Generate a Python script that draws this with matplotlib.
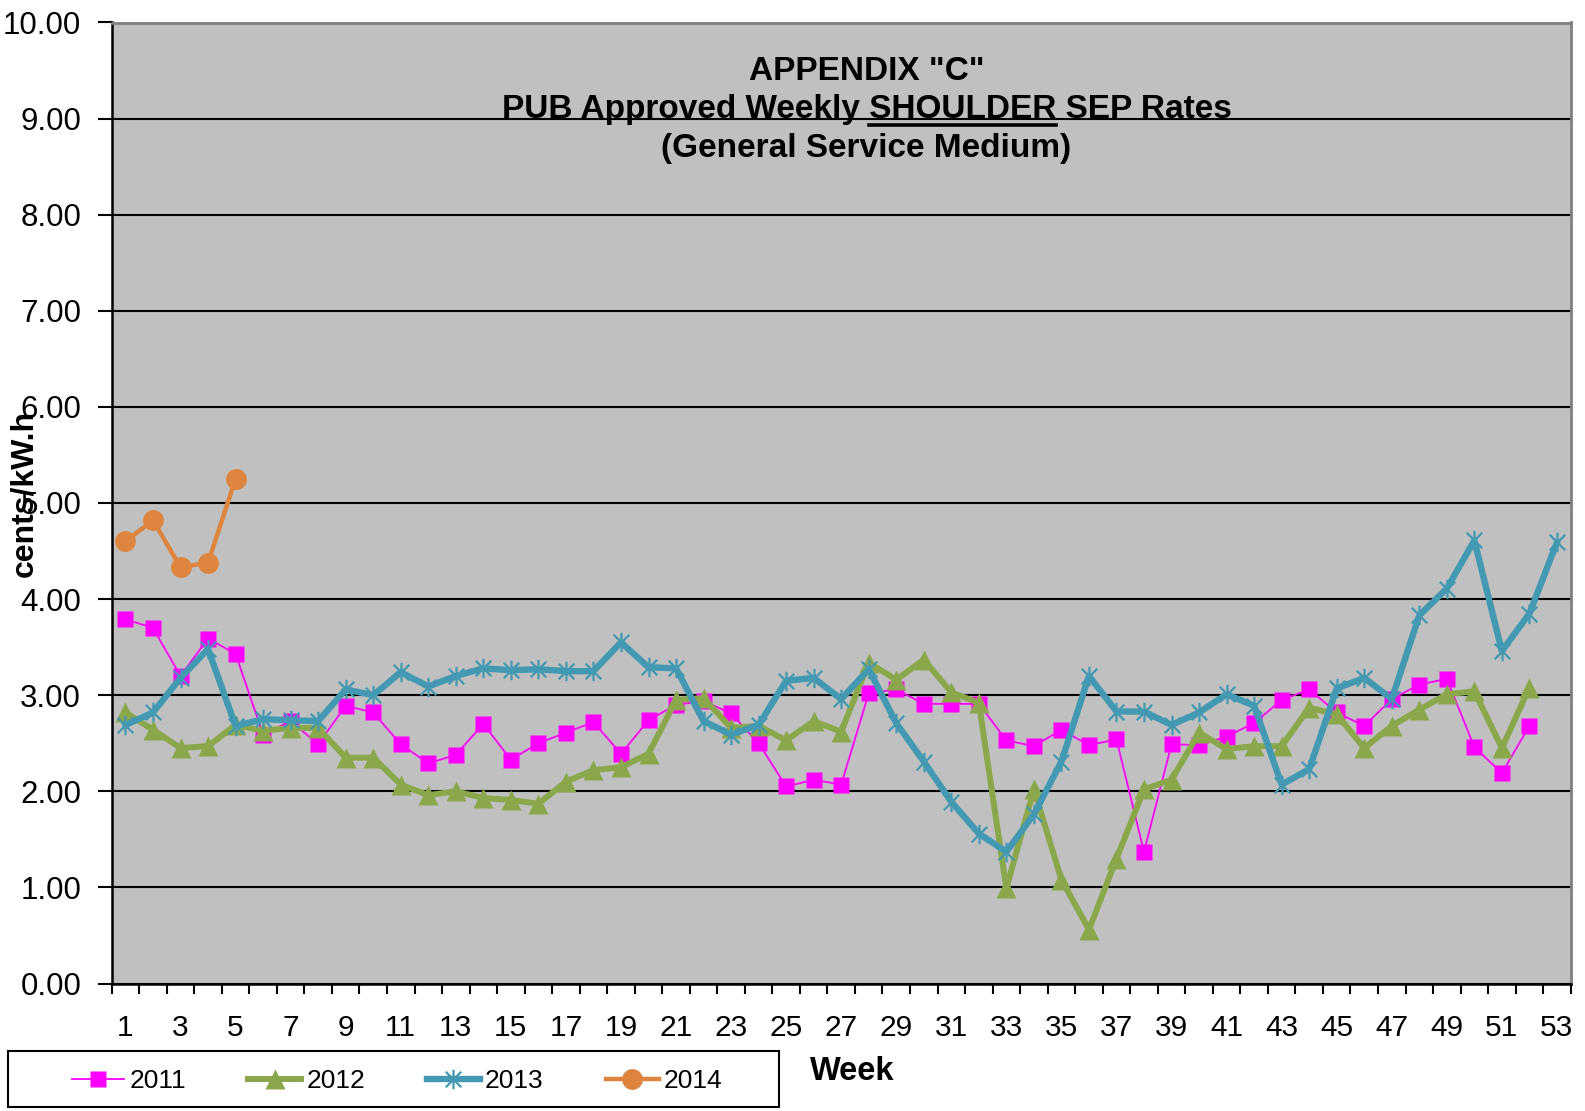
import numpy as np
import matplotlib
matplotlib.use("Agg")
import matplotlib.pyplot as plt
from matplotlib.path import Path
from matplotlib.patches import Rectangle
from matplotlib import font_manager as fm

weeks = list(range(1, 54))
week_tick_labels = [str(w) for w in range(1, 54, 2)]

rates_2011 = [3.79, 3.70, 3.20, 3.59, 3.43, 2.59, 2.73, 2.49, 2.89, 2.82,
              2.49, 2.29, 2.38, 2.70, 2.33, 2.50, 2.61, 2.72, 2.39, 2.74,
              2.90, 2.94, 2.81, 2.50, 2.05, 2.12, 2.07, 3.02, 3.06, 2.91,
              2.91, 2.91, 2.53, 2.47, 2.64, 2.48, 2.54, 1.37, 2.49, 2.48,
              2.57, 2.71, 2.95, 3.06, 2.82, 2.68, 2.96, 3.11, 3.17, 2.46,
              2.19, 2.68]
rates_2012 = [2.82, 2.64, 2.45, 2.47, 2.69, 2.63, 2.66, 2.66, 2.35, 2.35,
              2.07, 1.96, 2.00, 1.93, 1.91, 1.87, 2.10, 2.22, 2.25, 2.39,
              2.95, 2.97, 2.66, 2.68, 2.53, 2.73, 2.62, 3.34, 3.16, 3.37,
              3.03, 2.92, 0.99, 2.02, 1.08, 0.56, 1.30, 2.02, 2.12, 2.61,
              2.44, 2.47, 2.47, 2.87, 2.80, 2.45, 2.68, 2.85, 3.01, 3.04,
              2.45, 3.08]
rates_2013 = [2.69, 2.82, 3.18, 3.48, 2.68, 2.75, 2.74, 2.73, 3.06, 3.00,
              3.24, 3.09, 3.20, 3.28, 3.26, 3.27, 3.25, 3.25, 3.55, 3.29,
              3.28, 2.73, 2.59, 2.69, 3.15, 3.18, 2.96, 3.27, 2.71, 2.31,
              1.89, 1.56, 1.37, 1.76, 2.31, 3.20, 2.83, 2.83, 2.69, 2.82,
              3.01, 2.89, 2.07, 2.23, 3.07, 3.18, 2.96, 3.83, 4.11, 4.61,
              3.46, 3.85, 4.59]
rates_2014 = [4.60, 4.82, 4.33, 4.38, 5.25]

series_labels = ["2011", "2012", "2013", "2014"]

# ---- fonts ----
names = {f.name for f in fm.fontManager.ttflist}
NARROW = ["Liberation Sans Narrow", "Liberation Sans", "DejaVu Sans"] if "Liberation Sans Narrow" in names else ["Liberation Sans", "DejaVu Sans"]
REG = ["Liberation Sans", "DejaVu Sans"]
plt.rcParams["font.family"] = REG

W, H = 1585, 1111
fig = plt.figure(figsize=(W / 100, H / 100), dpi=100)
fig.patch.set_facecolor("white")

ax = fig.add_axes([111.7 / W, 1 - 983.5 / H, (1570.7 - 111.7) / W, (983.5 - 22.5) / H])
ax.set_facecolor("#C0C0C0")

star = Path([(-1, -1), (1, 1), (-1, 1), (1, -1), (0, -1.25), (0, 1.25)],
            [Path.MOVETO, Path.LINETO, Path.MOVETO, Path.LINETO, Path.MOVETO, Path.LINETO])

ax.plot(weeks[:len(rates_2011)], rates_2011, color="#FF00FF", lw=1.3,
        marker="s", ms=12, mec="none", mfc="#FF00FF", label=series_labels[0], zorder=3)
ax.plot(weeks[:len(rates_2012)], rates_2012, color="#8BA74B", lw=4.3,
        marker="^", ms=14.5, mec="none", mfc="#8BA74B", label=series_labels[1], zorder=4)
ax.plot(weeks[:len(rates_2013)], rates_2013, color="#4299B1", lw=4.6,
        marker=star, ms=14, mew=1.6, mec="#4299B1", mfc="none", label=series_labels[2], zorder=5)
ax.plot(weeks[:len(rates_2014)], rates_2014, color="#DD853E", lw=3.2,
        marker="o", ms=15, mec="none", mfc="#DD853E", label=series_labels[3], zorder=6)

ax.set_xlim(0.5, 53.5)
ax.set_ylim(0, 10)
ax.set_yticks(np.arange(0, 11, 1))
ax.set_yticklabels([f"{v:.2f}" for v in np.arange(0, 11, 1)])
ax.yaxis.grid(True, color="black", lw=1.5)
ax.set_axisbelow(True)

ax.set_xticks(list(range(1, 54, 2)))
ax.set_xticklabels(week_tick_labels)
ax.set_xticks(np.arange(0.5, 54, 1), minor=True)
ax.tick_params(axis="x", which="major", length=0, pad=22, labelsize=21.5)
ax.tick_params(axis="x", which="minor", length=7, width=1.5, direction="out", color="black")
ax.tick_params(axis="y", which="major", length=10, width=1.5, direction="out", pad=12, labelsize=22.5)

for side in ["left", "bottom"]:
    ax.spines[side].set_color("black")
    ax.spines[side].set_linewidth(1.8)
for side in ["top", "right"]:
    ax.spines[side].set_color("#808080")
    ax.spines[side].set_linewidth(2.0)

# title (inside plot)
TFS = 24
tx = 866.5 / W
fig.text(tx, 1 - 80.4 / H, 'APPENDIX "C"', ha="center", va="baseline",
         fontsize=TFS, fontweight="bold", family=NARROW)
line2 = fig.text(tx, 1 - 117.8 / H, "PUB Approved Weekly SHOULDER SEP Rates",
                 ha="center", va="baseline", fontsize=TFS, fontweight="bold", family=NARROW)
fig.text(tx, 1 - 157.0 / H, "(General Service Medium)", ha="center", va="baseline",
         fontsize=TFS, fontweight="bold", family=NARROW)

# underline "SHOULDER"
fig.canvas.draw()
r = fig.canvas.get_renderer()
def width_of(s):
    t = fig.text(0, 0, s, fontsize=TFS, fontweight="bold", family=NARROW)
    w = t.get_window_extent(r).width
    t.remove()
    return w
full_bb = line2.get_window_extent(r)
w_pre = width_of("PUB Approved Weekly")
w_sp = width_of("a b") - width_of("ab")
w_mid = width_of("PUB Approved Weekly SHOULDER")
x0 = full_bb.x0 + w_pre + w_sp
x1 = full_bb.x0 + w_mid
uy = 1 - 124.5 / H
fig.add_artist(plt.Line2D([x0 / W, x1 / W], [uy, uy], transform=fig.transFigure,
                          color="black", lw=2.6))

# axis labels
fig.text(24 / W, 1 - 493 / H, "cents/kW.h", rotation=90, ha="center", va="center",
         fontsize=23, fontweight="bold")
fig.text(852 / W, 1 - 1072 / H, "Week", ha="center", va="center",
         fontsize=23.5, fontweight="bold", family=NARROW)

# legend with a plain rectangular frame
fig.add_artist(Rectangle((8 / W, 1 - 1107 / H), 771 / W, 56 / H, transform=fig.transFigure,
                         facecolor="white", edgecolor="black", lw=1.5, zorder=1))
leg = fig.legend(loc="center", bbox_to_anchor=(397 / W, 1 - 1081 / H),
                 ncol=4, frameon=False, handlelength=2.0, handletextpad=0.2,
                 columnspacing=2.35, borderpad=0.0, borderaxespad=0.0,
                 prop={"family": NARROW, "size": 19})
leg.set_zorder(2)

fig.savefig("out.png", dpi=100)
